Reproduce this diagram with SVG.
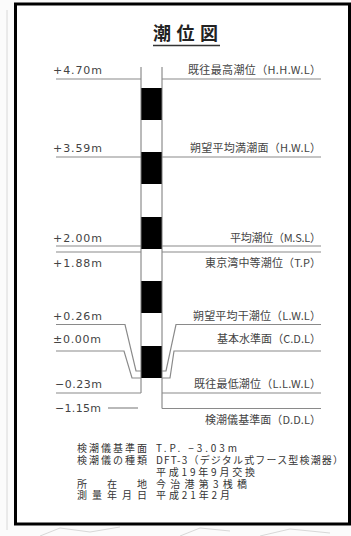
<svg xmlns="http://www.w3.org/2000/svg" width="351" height="536" viewBox="0 0 351 536">
<style>
.ln{stroke:#8a8a8a;stroke-width:1.2;fill:none}
.pl{stroke:#777;stroke-width:1;fill:none}
.blk{fill:#000}
.num{font-family:"DejaVu Sans",sans-serif;font-size:11px;fill:#444}
.lab{font-family:"Noto Sans CJK JP",sans-serif;font-size:11px;fill:#444;text-anchor:end}
.info{font-family:"Noto Sans CJK JP",sans-serif;font-size:10px;fill:#333}
.ttl{font-family:"Noto Sans CJK JP",sans-serif;font-size:18px;font-weight:bold;fill:#222}
</style>
<rect x="0" y="0" width="351" height="536" fill="#fbfbfb"/>
<g id="background-map" stroke="#d8d8d8" stroke-width="1" fill="none">
<line x1="7" y1="10" x2="7" y2="530"/>
<path d="M40 536 L60 528 L90 532 L120 527 M180 536 L200 528 L230 531 M260 536 L290 529 L330 533"/>
</g>
<g id="frame">
<rect x="15.5" y="4" width="334" height="520" fill="#fff" stroke="#000" stroke-width="3"/>
</g>
<g id="title">
<text class="ttl" x="153" y="40" textLength="65">潮位図</text>
<line x1="153" y1="45.5" x2="220" y2="45.5" stroke="#333" stroke-width="1.6"/>
</g>
<g id="pole">
<rect class="blk" x="141" y="88" width="21" height="32"/>
<rect class="blk" x="141" y="152" width="21" height="32"/>
<rect class="blk" x="141" y="217" width="21" height="32"/>
<rect class="blk" x="141" y="281" width="21" height="32"/>
<rect class="blk" x="141" y="346" width="21" height="32"/>
<line class="pl" x1="141" y1="67" x2="141" y2="393"/>
<line class="pl" x1="162" y1="67" x2="162" y2="408.5"/>
</g>
<g id="connectors">
<polyline class="ln" points="56,79 141,79"/><polyline class="ln" points="162,79 321,79"/>
<polyline class="ln" points="56,157 141,157"/><polyline class="ln" points="162,157 321,157"/>
<polyline class="ln" points="56,246 141,246"/><polyline class="ln" points="162,246 321,246"/>
<polyline class="ln" points="56,252 141,252"/><polyline class="ln" points="162,252 321,252"/>
<polyline class="ln" points="56,324.5 125,324.5 136,371 141,371"/>
<polyline class="ln" points="162,371 166,371 176,324.5 321,324.5"/>
<polyline class="ln" points="56,351 124,351 132,378 141,378"/>
<polyline class="ln" points="162,378 170,378 174,351 321,351"/>
<polyline class="ln" points="56,393 141,393"/><polyline class="ln" points="162,393 321,393"/>
<polyline class="ln" points="108,408 138,408"/><polyline class="ln" points="162,408.5 321,408.5"/>
</g>
<g id="level-hhwl">
<text class="num" x="53" y="74" textLength="49">+4.70m</text>
<text class="lab" x="321" y="74" textLength="133">既往最高潮位（H.H.W.L）</text>
</g>
<g id="level-hwl">
<text class="num" x="53" y="152" textLength="49">+3.59m</text>
<text class="lab" x="321" y="152" textLength="131">朔望平均満潮面（H.W.L）</text>
</g>
<g id="level-msl">
<text class="num" x="53" y="242" textLength="49">+2.00m</text>
<text class="lab" x="321" y="242" textLength="91">平均潮位（M.S.L）</text>
</g>
<g id="level-tp">
<text class="num" x="53" y="267" textLength="49">+1.88m</text>
<text class="lab" x="321" y="267" textLength="116">東京湾中等潮位（T.P）</text>
</g>
<g id="level-lwl">
<text class="num" x="53" y="320" textLength="49">+0.26m</text>
<text class="lab" x="321" y="320" textLength="128">朔望平均干潮位（L.W.L）</text>
</g>
<g id="level-cdl">
<text class="num" x="53" y="343" textLength="48">±0.00m</text>
<text class="lab" x="321" y="343" textLength="104">基本水準面（C.D.L）</text>
</g>
<g id="level-llwl">
<text class="num" x="55" y="388" textLength="47">−0.23m</text>
<text class="lab" x="321" y="388" textLength="127">既往最低潮位（L.L.W.L）</text>
</g>
<g id="level-ddl">
<text class="num" x="55" y="412" textLength="46">−1.15m</text>
<text class="lab" x="321" y="424" textLength="116">検潮儀基準面（D.D.L）</text>
</g>
<g id="info">
<text class="info" x="77" y="452" textLength="70">検潮儀基準面</text>
<text class="info" x="156" y="452" textLength="81">T.P. −3.03m</text>
<text class="info" x="77" y="464" textLength="70">検潮儀の種類</text>
<text class="info" x="156" y="464" textLength="187">DFT-3（デジタル式フース型検潮器）</text>
<text class="info" x="156" y="476" textLength="99">平成19年9月交換</text>
<text class="info" x="77" y="487.5" textLength="70">所　在　地</text>
<text class="info" x="156" y="487.5" textLength="91">今治港第3桟橋</text>
<text class="info" x="77" y="499" textLength="70">測 量 年 月 日</text>
<text class="info" x="156" y="499" textLength="74">平成21年2月</text>
</g>
</svg>
